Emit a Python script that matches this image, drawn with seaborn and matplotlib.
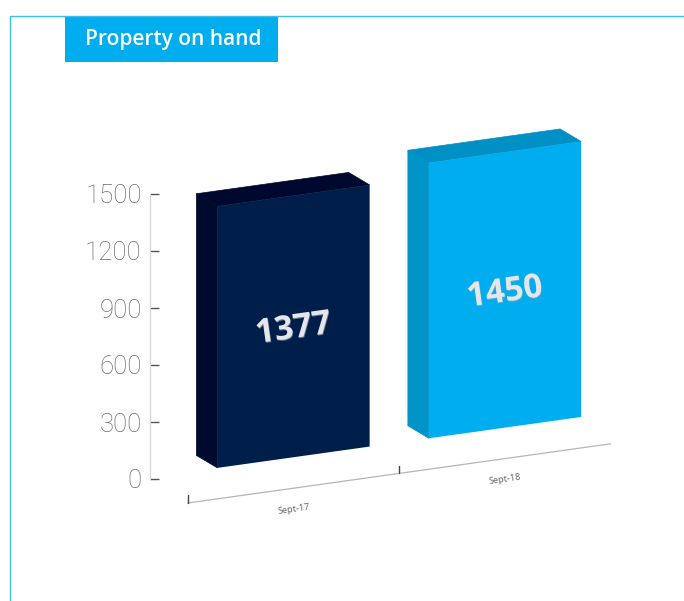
import numpy as np
import pandas as pd
import matplotlib
matplotlib.use('Agg')
import matplotlib.pyplot as plt
import matplotlib.patheffects as pe
import seaborn as sns
from matplotlib.transforms import Affine2D, IdentityTransform, offset_copy
from matplotlib.patches import Polygon, Rectangle
from matplotlib.lines import Line2D

# ---- data ----
categories = ['Sept-17', 'Sept-18']
values = [1377, 1450]
y_ticks = [0, 300, 600, 900, 1200, 1500]
title = 'Property on hand'

front_colors = ['#001e4a', '#00aeef']
side_colors = ['#000a2e', '#0094c9']
top_colors = ['#000830', '#0090c5']

W, H, DPI = 684, 601, 100
sns.set_theme(style='white')
plt.rcParams['font.family'] = ['Noto Sans', 'DejaVu Sans']

fig = plt.figure(figsize=(W / DPI, H / DPI), dpi=DPI)
fig.patch.set_facecolor('white')
ax = fig.add_axes([187.75 / W, 122 / H, 423 / W, 285 / H])
ax.patch.set_visible(False)

df = pd.DataFrame({'period': categories, 'count': values})
sns.barplot(data=df, x='period', y='count', hue='period', palette=front_colors,
            width=0.72, legend=False, ax=ax, saturation=1)
ax.set_xlim(-0.5, len(categories) - 0.5)
ax.set_ylim(y_ticks[0], y_ticks[-1])

# perspective-like shear in display space
k, x0 = 0.14, 138.0
shear = Affine2D(np.array([[1, 0, 0], [k, 1, -k * x0], [0, 0, 1]]))
trans = ax.transData + shear
depth = np.array([-21.0, 12.5])

for p, sc, tc in zip(ax.patches, side_colors, top_colors):
    p.set_transform(trans)
    p.set_clip_on(False)
    p.set_edgecolor('none')
    p.set_zorder(3)
    x, w, h = p.get_x(), p.get_width(), p.get_height()
    bl, tl, tr = trans.transform([(x, 0), (x, h), (x + w, h)])
    side = Polygon([tl, bl, bl + depth, tl + depth], closed=True,
                   transform=IdentityTransform(), facecolor=sc, edgecolor=sc,
                   lw=0.5, clip_on=False, zorder=2)
    top = Polygon([tl, tr, tr + depth, tl + depth], closed=True,
                  transform=IdentityTransform(), facecolor=tc, edgecolor=tc,
                  lw=0.5, clip_on=False, zorder=2)
    ax.add_patch(side)
    ax.add_patch(top)

# value labels
for i, v in enumerate(values):
    ax.text(i, v / 2, str(v), transform=offset_copy(trans, fig=fig, y=-3, units='dots'),
            rotation=8, rotation_mode='anchor', ha='center', va='center',
            fontsize=24, fontweight='bold', color='#e4e6ec', zorder=5,
            fontfamily=['Open Sans', 'DejaVu Sans'],
            path_effects=[pe.withSimplePatchShadow(offset=(0.5, -0.7),
                                                   shadow_rgbFace='#a4a6ae', alpha=0.6)])

# floor line with category ticks
y_floor = -163
ax.add_line(Line2D([-0.5, len(categories) - 0.5], [y_floor, y_floor], transform=trans,
                   color='#b5b5b5', lw=0.9, clip_on=False))
for xt in np.arange(len(categories)) - 0.5:
    ax.add_line(Line2D([xt, xt], [y_floor, y_floor + 40], transform=trans,
                       color='#444444', lw=1, clip_on=False))
for i, cat in enumerate(categories):
    ax.text(i, y_floor - 110, cat, transform=trans, rotation=8, rotation_mode='anchor',
            ha='center', va='center', fontsize=6.5, color='#666666')

# axes styling
for s in ['top', 'right', 'bottom']:
    ax.spines[s].set_visible(False)
ax.spines['left'].set_position(('outward', 37.75 * 72 / DPI))
ax.spines['left'].set_color('#d5d5d5')
ax.spines['left'].set_linewidth(0.8)
ax.set_xticks([])
ax.set_yticks(y_ticks)
ax.set_yticklabels([str(t) for t in y_ticks],
                   fontfamily=['Roboto', 'Noto Sans'], fontweight='light')
ax.tick_params(axis='y', left=True, direction='in', length=6.5, width=1,
               color='#555555', labelsize=18.5, labelcolor='#6a6a6a', pad=6)
ax.set_xlabel('')
ax.set_ylabel('')

# frame lines
fig.add_artist(Line2D([10, W], [H - 16, H - 16], transform=IdentityTransform(),
                      color='#3dbff0', lw=1))
fig.add_artist(Line2D([10, 10], [0, H - 16], transform=IdentityTransform(),
                      color='#3dbff0', lw=1))

# title box
fig.add_artist(Rectangle((65, H - 62), 213, 46, transform=IdentityTransform(),
                         facecolor='#00aeef', edgecolor='none'))
fig.text(173.5 / W, 1 - 40 / H, title, ha='center', va='center', color='white',
         fontsize=15, fontweight='semibold', fontfamily=['Open Sans', 'DejaVu Sans'])

fig.savefig('out.png', dpi=DPI)
